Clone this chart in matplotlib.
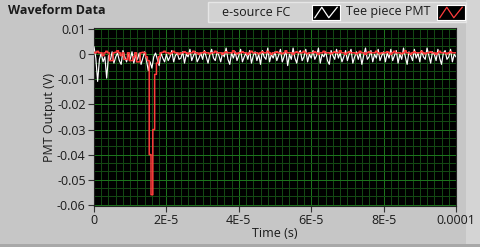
import matplotlib
matplotlib.use('Agg')
import matplotlib.pyplot as plt
import numpy as np
from matplotlib.patches import Rectangle
from matplotlib.ticker import MultipleLocator, FixedLocator

plt.rcParams['font.family'] = ['Open Sans', 'DejaVu Sans']

# sample spacing of both traces (s)
dt = 5e-7

# e-source FC trace, mV
fc_mv = [
    3.0, -1.5, -10.8, -2.0, 0.5, -3.0, -1.0, -9.5, -0.5, -2.5, 1.0, -3.5, -1.0, 0.5, -2.5, -4.0, 1.5, -1.0, -3.0, 0.0,
    -2.0, 1.0, -3.5, -0.5, -2.0, 0.5, -4.0, -1.5, 1.0, -2.5, -6.5, -3.0, -5.5, -1.0, 0.5, -2.0, -4.5, 0.5, -1.5, -3.0,
    0.0, -2.5, -1.0, 1.5, -3.0, -0.5, 0.5, -2.0, -1.5, 1.0, -3.5, 0.0, -1.0, 2.0, -2.5, -0.5, 1.0, -3.0, -1.5, 0.5,
    -2.0, 1.5, -1.0, -3.5, 0.0, 2.0, -1.5, -2.5, 1.0, -0.5, -3.0, 0.5, -1.0, 2.5, -2.0, -4.0, 0.5, -1.5, 1.0, -2.5,
    -0.5, 2.0, -3.0, -1.0, 0.5, -2.0, 1.5, -3.5, -0.5, 1.0, -2.5, 0.0, -4.0, 1.5, -1.0, -2.0, 2.5, -3.0, 0.0, -1.5,
    1.0, -2.5, -0.5, 2.0, -3.0, -1.0, 1.5, -4.5, 0.0, -2.0, 2.5, -1.5, -3.5, 0.5, 1.5, -2.5, -1.0, 2.0, -3.0, 0.0,
    -1.5, 1.5, -2.0, -0.5, 2.5, -3.5, 0.0, -1.0, 1.0, -2.5, -4.0, 1.5, -0.5, -2.0, 2.0, -1.5, 0.5, -3.0, -1.0, 1.5,
    -2.5, 0.0, 2.0, -3.5, -1.0, 1.0, -2.0, 0.5, -4.0, -0.5, 2.5, -2.0, -1.0, 1.5, -3.0, 0.0, -1.5, 2.0, -2.5, -0.5,
    1.0, -3.0, 0.5, -1.5, 2.0, -2.5, -0.5, 1.5, -3.5, 0.0, -2.0, 2.5, -1.0, -4.0, 1.0, -0.5, -2.5, 2.0, -1.5, 0.5,
    -3.0, 1.5, -1.0, -2.0, 2.5, -0.5, -3.5, 1.0, 0.0, -2.5, 2.0, -1.5, -4.0, 0.5, 1.5, -2.0, -1.0, 2.0, -3.0, 0.0,
    -1.0,
]

# Tee piece PMT trace, mV
pmt_mv = [
    0.8, 0.6, 1.2, 0.6, 0.6, -0.5, 0.6, 1.2, 0.6, -2.5, -2.5, 0.6, 0.8, 1.4, 0.6, -0.5, 0.6, -2.0, -2.0, 0.6,
    -2.5, -2.5, -1.0, 0.6, -3.0, -3.0, 0.6, 0.8, 0.6, -1.0, -2.5, -40.0, -56.0, -30.0, -8.0, -3.5, -1.0, 0.6, 0.8, 1.2,
    0.6, 0.6, 0.2, 0.6, 1.2, 0.6, 0.6, 0.0, 0.6, 0.6, 1.0, 0.6, 0.2, 0.6, 0.6, 1.2, 0.6, 0.6, 0.0, 0.6,
    0.6, 1.0, 0.6, 0.6, 0.2, 0.6, 0.6, 1.2, 0.6, 0.6, 0.6, 0.0, 0.6, 1.0, 0.6, 0.6, 0.6, 1.4, 0.6, 0.2,
    0.6, 0.6, 1.0, 0.6, 0.6, 0.0, 0.6, 1.2, 0.6, 0.6, 0.6, 0.2, 0.6, 1.0, 0.6, 0.6, 1.2, 0.6, 0.0, 0.6,
    0.6, 1.0, 0.6, 0.6, 0.2, 0.6, 1.4, 0.6, 0.6, 0.6, 0.0, 0.6, 1.0, 0.6, 0.6, 0.6, 1.2, 0.6, 0.2, 0.6,
    0.6, 0.6, 1.0, 0.6, 0.0, 0.6, 0.6, 1.2, 0.6, 0.6, 0.6, 0.2, 0.6, 1.0, 0.6, 0.6, 1.4, 0.6, 0.6, 0.0,
    0.6, 1.0, 0.6, 0.6, 0.6, 0.2, 0.6, 1.2, 0.6, 0.6, 0.0, 0.6, 1.0, 0.6, 0.6, 0.6, 1.2, 0.6, 0.2, 0.6,
    0.6, 0.6, 1.0, 0.6, 0.0, 0.6, 1.2, 0.6, 0.6, 0.6, 0.2, 0.6, 1.4, 0.6, 0.6, 0.0, 0.6, 1.0, 0.6, 0.6,
    0.6, 1.2, 0.6, 0.2, 0.6, 0.6, 1.0, 0.6, 0.6, 0.0, 0.6, 1.2, 0.6, 0.6, 0.6, 0.2, 0.6, 1.0, 0.6, 0.6,
    0.6,
]

x_ticks = [0, 2e-5, 4e-5, 6e-5, 8e-5, 1e-4]
x_labels = ['0', '2E-5', '4E-5', '6E-5', '8E-5', '0.0001']
y_ticks = [0.01, 0, -0.01, -0.02, -0.03, -0.04, -0.05, -0.06]
y_labels = ['0.01', '0', '-0.01', '-0.02', '-0.03', '-0.04', '-0.05', '-0.06']
series_names = ['e-source FC', 'Tee piece PMT']
series_colors = ['white', '#ff3c3c']

W, H = 480, 247
ONE_PX = 0.72  # linewidth in points for a 1 pixel line at 100 dpi
fig = plt.figure(figsize=(W / 100, H / 100), dpi=100, facecolor='#c6c6c6')

def px(x, y, w, h):
    return [x / W, 1 - (y + h) / H, w / W, h / H]

# panel chrome
fig.patches.append(Rectangle((466 / W, 0), 14 / W, 1, transform=fig.transFigure,
                             facecolor='#d4d4d4', edgecolor='none', zorder=-4))
fig.patches.append(Rectangle((0, 0), 1, 3 / H, transform=fig.transFigure,
                             facecolor='#a8a8a8', edgecolor='none', zorder=-4))
fig.patches.append(Rectangle((208 / W, 1 - 22 / H), 258 / W, 20 / H,
                             transform=fig.transFigure, facecolor='#d2d2d2',
                             edgecolor='#e6e6e6', linewidth=1, zorder=-3))
fig.text(8 / W, 1 - 10 / H, 'Waveform Data', fontsize=9, fontweight='bold',
         color='#1a1a1a', va='center', ha='left')

# legend entries with waveform icons
for name, color, tx, ix in zip(series_names, series_colors, [222, 346], [312, 437]):
    fig.text(tx / W, 1 - 12 / H, name, fontsize=9, color='#1a1a1a',
             va='center', ha='left')
    iax = fig.add_axes(px(ix, 5, 28, 15))
    iax.set_facecolor('black')
    iax.plot([0.1, 0.35, 0.6, 0.9], [0.15, 0.85, 0.15, 0.85], color=color, lw=0.9)
    iax.set_xlim(0, 1)
    iax.set_ylim(0, 1)
    iax.set_xticks([])
    iax.set_yticks([])
    for s in iax.spines.values():
        s.set_color('#ffffff')
        s.set_linewidth(0.8)

ax = fig.add_axes(px(94, 28, 362, 178))
ax.set_facecolor('black')

t_fc = np.arange(len(fc_mv)) * dt
t_pmt = np.arange(len(pmt_mv)) * dt
ax.plot(t_fc, np.array(fc_mv) * 1e-3, color=series_colors[0], lw=0.85, zorder=3)
ax.plot(t_pmt, np.array(pmt_mv) * 1e-3, color=series_colors[1], lw=1.1,
        drawstyle='steps-mid', snap=False, zorder=4)

ax.set_xlim(0, 1e-4)
ax.set_ylim(-0.0605, 0.0105)

ax.xaxis.set_major_locator(FixedLocator(x_ticks))
ax.xaxis.set_minor_locator(MultipleLocator(2e-6))
ax.yaxis.set_major_locator(FixedLocator(y_ticks))
ax.yaxis.set_minor_locator(MultipleLocator(0.01 / 3))
ax.set_xticklabels(x_labels)
ax.set_yticklabels(y_labels)

ax.grid(which='minor', color='#134813', lw=ONE_PX)
ax.grid(which='major', color='#1c741c', lw=ONE_PX)
ax.set_axisbelow(True)

ax.tick_params(which='major', direction='out', length=4, width=0.8,
               color='#333333', labelsize=9, labelcolor='#1a1a1a', pad=2)
ax.tick_params(which='minor', length=0)
for s in ax.spines.values():
    s.set_color('#222222')
    s.set_linewidth(0.8)

ax.set_xlabel('Time (s)', fontsize=9, color='#1a1a1a', labelpad=0)
ax.set_ylabel('PMT Output (V)', fontsize=9, color='#1a1a1a', labelpad=1)

fig.savefig('out.png', dpi=100, facecolor=fig.get_facecolor())
